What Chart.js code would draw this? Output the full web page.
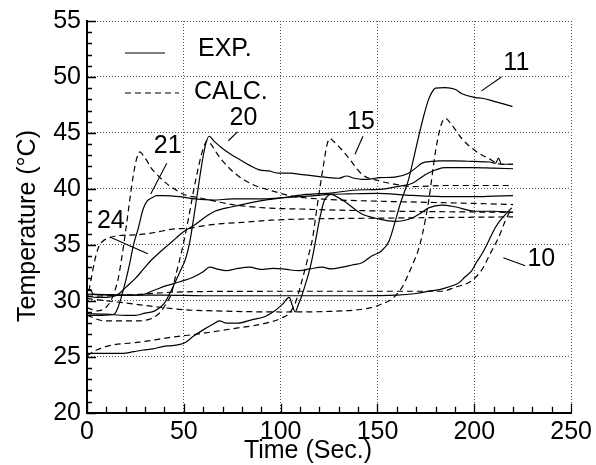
<!DOCTYPE html>
<html><head><meta charset="utf-8">
<script src="https://cdn.jsdelivr.net/npm/chart.js@4"></script>
<style>html,body{margin:0;padding:0;background:#fff}</style>
</head><body>
<canvas id="c" width="596" height="465"></canvas>
<script>
// ---- data (time in s, temperature in °C) ----
const xTicks = [0, 50, 100, 150, 200, 250];
const yTicks = [20, 25, 30, 35, 40, 45, 50, 55];

const t24exp = [0, 5, 10, 14, 17, 20, 25, 29, 33, 38, 42, 46, 50, 55, 62, 66, 75, 80, 92, 103, 113, 127, 139, 151, 160, 168, 176, 185, 200, 210, 220];
const T24exp = [30.4, 30.3, 30.3, 30.4, 30.7, 31.2, 32.0, 32.8, 33.6, 34.4, 35.0, 35.6, 36.2, 36.7, 37.6, 38.0, 38.4, 38.6, 39.0, 39.25, 39.5, 39.65, 39.9, 39.95, 40.2, 40.5, 41.4, 41.9, 41.9, 41.85, 41.8];
const t24calc = [0, 2, 4, 6, 8, 11, 15, 26, 35, 44, 54, 60, 70, 80, 95, 110, 130, 160, 190, 220];
const T24calc = [30.0, 31.8, 33.6, 34.8, 35.3, 35.6, 35.8, 35.9, 36.1, 36.4, 36.5, 36.7, 36.9, 37.0, 37.2, 37.3, 37.35, 37.4, 37.45, 37.5];

const t21exp = [0, 8, 14, 16, 18, 20, 22, 24, 26.5, 29, 31, 33.5, 36, 40, 48, 56, 65, 75, 90, 100, 110, 118, 125, 135, 150, 165, 176, 190, 200, 210, 220];
const T21exp = [28.7, 28.7, 28.8, 29.4, 30.5, 31.8, 33.3, 35.0, 36.5, 38.2, 38.9, 39.2, 39.4, 39.4, 39.3, 39.1, 39.0, 39.1, 39.1, 39.2, 39.3, 39.4, 39.5, 39.55, 39.6, 39.45, 39.35, 39.3, 39.3, 39.35, 39.4];
const t21calc = [0, 5, 9, 12, 14, 16, 18, 20, 22, 24, 25.5, 27.3, 29, 31, 33, 36, 41.6, 46, 50, 58, 75, 92, 110, 130, 160, 190, 220];
const T21calc = [29.4, 29.1, 29.3, 29.9, 30.7, 31.9, 33.9, 36.3, 38.9, 41.3, 42.6, 43.3, 43.0, 42.5, 41.9, 41.3, 40.4, 39.9, 39.5, 39.2, 38.6, 38.3, 38.2, 38.1, 38.0, 37.95, 37.9];

const t20exp = [0, 10, 20, 25, 30, 35, 40, 44, 48, 51, 53, 55, 57, 59, 61, 63, 66, 70, 75, 79, 84, 89, 94, 99, 105, 110, 115, 120, 125, 130, 134, 138, 142, 147, 151, 159, 166, 170, 173, 178, 182, 190, 200, 208, 211, 212.5, 214, 217, 220];
const T20exp = [28.85, 28.8, 28.7, 28.7, 28.9, 29.1, 29.8, 31.1, 32.6, 33.8, 35.2, 37.3, 39.6, 41.9, 43.8, 44.7, 44.2, 43.6, 43.0, 42.6, 42.1, 41.7, 41.6, 41.4, 41.4, 41.3, 41.2, 41.1, 41.0, 40.95, 41.15, 40.95, 40.85, 40.9, 41.0, 41.05, 41.4, 41.9, 42.3, 42.45, 42.5, 42.5, 42.45, 42.4, 42.3, 42.75, 42.2, 42.2, 42.2];
const t20calc = [0, 9, 25, 33, 38, 41, 43.5, 46, 49, 52, 55, 58, 60, 62, 64, 67, 70, 77, 85.5, 96, 106, 125, 150, 175, 200, 220];
const T20calc = [28.7, 28.2, 28.2, 28.4, 29.0, 29.8, 30.6, 32.4, 34.5, 37.0, 39.8, 42.3, 43.6, 44.3, 44.0, 43.2, 42.5, 41.3, 40.4, 39.8, 39.35, 39.05, 38.9, 38.8, 38.7, 38.6];

const t15exp = [0, 10, 18.6, 24, 29, 34, 39, 44, 48, 51, 54.7, 60, 65, 68.4, 72, 78, 85, 92, 97, 101, 104.4, 106, 107.5, 109, 111, 113, 115, 117, 119, 120.5, 122.4, 124.5, 126, 128.4, 133.6, 142, 151, 159, 163, 168, 172, 176.4, 183, 190, 200.5, 210, 220];
const T15exp = [25.3, 25.3, 25.3, 25.45, 25.6, 25.7, 25.9, 26.0, 26.1, 26.3, 26.8, 27.4, 27.9, 28.2, 28.0, 28.0, 28.3, 28.6, 29.1, 29.7, 30.3, 29.6, 29.0, 29.6, 30.5, 31.6, 32.8, 34.4, 36.3, 37.6, 38.9, 39.4, 39.5, 39.35, 38.8, 37.75, 37.3, 37.1, 37.15, 37.4, 37.8, 38.3, 38.55, 38.4, 38.0, 38.0, 37.9];
const t15calc = [0, 5, 11.8, 27, 44, 58, 75, 92.5, 101, 105, 108, 111, 114, 116.5, 118, 120, 122, 124, 125.5, 127, 130, 135, 142, 151, 159.5, 168, 185, 200, 220];
const T15calc = [25.1, 25.6, 26.0, 26.3, 26.75, 27.05, 27.5, 28.0, 28.5, 29.0, 30.0, 31.8, 33.8, 35.6, 37.4, 39.8, 42.0, 44.0, 44.5, 44.3, 43.8, 42.8, 41.3, 40.7, 40.4, 40.2, 40.3, 40.3, 40.3];

const t11exp = [0, 10, 20, 27, 34, 41, 48, 54.7, 60, 63.3, 68, 72, 78, 84, 90, 96, 101, 105, 109.6, 115, 121.5, 126, 131.8, 137, 142, 147, 152, 156, 159, 162, 166, 168.5, 171, 174, 176.4, 178, 180, 185, 190, 193.6, 200.5, 204, 210.7, 215, 219.7];
const T11exp = [30.6, 30.55, 30.5, 30.5, 30.9, 31.35, 31.7, 32.1, 32.6, 33.0, 32.8, 32.7, 32.9, 33.0, 32.8, 32.9, 32.85, 32.75, 32.7, 32.85, 33.0, 32.85, 33.0, 33.2, 33.4, 34.0, 34.45, 35.35, 37.0, 38.8, 40.8, 42.6, 44.5, 46.6, 48.0, 48.6, 49.0, 49.05, 48.9, 48.5, 48.15, 48.1, 47.8, 47.6, 47.35];
const t11calc = [0, 10, 20, 34, 50, 66, 100, 125, 140, 147, 152, 156, 159, 163, 166, 169, 171, 173, 176.4, 180, 183, 185, 188, 193.5, 200.5, 207, 214, 220];
const T11calc = [30.2, 30.0, 29.8, 29.5, 29.2, 29.1, 29.0, 29.05, 29.2, 29.4, 29.7, 30.0, 30.4, 31.3, 32.4, 33.6, 34.5, 35.8, 38.9, 43.4, 45.8, 46.3, 45.8, 44.5, 43.4, 42.75, 42.2, 42.2];

const t10exp = [0, 2, 3, 6, 20, 40, 60, 80, 100, 120, 140, 160, 170, 178, 182, 187, 192, 195, 198.7, 201, 204, 207.3, 210.7, 213, 216, 219.3];
const T10exp = [31.0, 31.0, 30.6, 30.55, 30.5, 30.5, 30.45, 30.45, 30.45, 30.45, 30.45, 30.5, 30.65, 30.9, 31.0, 31.25, 31.6, 32.1, 32.7, 33.4, 34.2, 35.3, 36.5, 37.1, 37.7, 38.3];
const t10calc = [0, 20, 50, 100, 150, 183, 190, 198.7, 204, 207.3, 210, 212.4, 215.9, 219.3];
const T10calc = [30.4, 30.5, 30.8, 30.85, 30.85, 30.85, 31.2, 31.8, 32.8, 33.9, 34.8, 35.6, 37.1, 38.3];

// curve labels: text, label position (t,T), pointer start, pointer end
const curveLabels = ['11', '15', '20', '21', '24', '10'];
const labelAt = [[221.7, 51.25], [141.5, 46.0], [80.8, 46.3], [41.7, 43.8], [12.3, 37.1], [234.6, 33.75]];
const pointerFrom = [[214, 50.0], [142.5, 44.7], [77.7, 45.1], [41.2, 42.3], [11.8, 35.7], [215, 33.84]];
const pointerTo = [[203.7, 48.76], [138.4, 43.1], [73.0, 44.3], [32.9, 39.55], [31.4, 34.2], [226.3, 33.13]];

const legendNames = ['EXP.', 'CALC.'];

// ---- build ----
const FONT = '"Liberation Sans", Arial, Helvetica, sans-serif';
const pts = (t, T) => t.map((v, i) => ({x: v, y: T[i]}));
const mk = (t, T, dashed) => ({
  data: pts(t, T), borderColor: '#000', borderWidth: 1.2, pointRadius: 0,
  fill: false, cubicInterpolationMode: 'monotone', borderDash: dashed ? [6, 4] : []
});
const datasets = [
  mk(t24exp, T24exp, false), mk(t24calc, T24calc, true),
  mk(t21exp, T21exp, false), mk(t21calc, T21calc, true),
  mk(t20exp, T20exp, false), mk(t20calc, T20calc, true),
  mk(t15exp, T15exp, false), mk(t15calc, T15calc, true),
  mk(t11exp, T11exp, false), mk(t11calc, T11calc, true),
  mk(t10exp, T10exp, false), mk(t10calc, T10calc, true)
];

const deco = {
  id: 'deco',
  afterDraw(chart) {
    const {ctx, chartArea: a, scales: {x, y}} = chart;
    ctx.save();
    ctx.strokeStyle = '#000';
    ctx.lineWidth = 1.3;
    ctx.setLineDash([]);
    // inward minor ticks
    ctx.beginPath();
    for (let v = 0; v <= 250; v += 10) {
      const px = Math.round(x.getPixelForValue(v)) + 0.5;
      const len = v % 50 === 0 ? 9 : 6;
      ctx.moveTo(px, a.bottom); ctx.lineTo(px, a.bottom - len);
    }
    for (let v = 20; v <= 55; v += 1) {
      const py = Math.round(y.getPixelForValue(v)) + 0.5;
      const len = v % 5 === 0 ? 9 : 5;
      ctx.moveTo(a.left, py); ctx.lineTo(a.left + len, py);
    }
    ctx.stroke();

    ctx.fillStyle = '#000';
    ctx.font = '25px ' + FONT;
    ctx.textBaseline = 'middle';
    // legend
    ctx.lineWidth = 1.2;
    ctx.beginPath();
    ctx.moveTo(a.left + 38, a.top + 32); ctx.lineTo(a.left + 78, a.top + 32); ctx.stroke();
    ctx.setLineDash([6, 4]);
    ctx.beginPath();
    ctx.moveTo(a.left + 38, a.top + 72); ctx.lineTo(a.left + 92, a.top + 72); ctx.stroke();
    ctx.setLineDash([]);
    ctx.textAlign = 'left';
    ctx.fillText(legendNames[0], a.left + 111, a.top + 28);
    ctx.fillText(legendNames[1], a.left + 107, a.top + 71);

    // curve labels
    ctx.textAlign = 'center';
    ctx.lineWidth = 1.1;
    curveLabels.forEach((s, i) => {
      ctx.fillText(s, x.getPixelForValue(labelAt[i][0]), y.getPixelForValue(labelAt[i][1]));
      ctx.beginPath();
      ctx.moveTo(x.getPixelForValue(pointerFrom[i][0]), y.getPixelForValue(pointerFrom[i][1]));
      ctx.lineTo(x.getPixelForValue(pointerTo[i][0]), y.getPixelForValue(pointerTo[i][1]));
      ctx.stroke();
    });

    // axis titles
    ctx.textAlign = 'center';
    ctx.fillText('Time (Sec.)', 308, 451);
    ctx.save();
    ctx.translate(28, 226);
    ctx.rotate(-Math.PI / 2);
    ctx.fillText('Temperature (°C)', 0, 0);
    ctx.restore();
    ctx.restore();
  }
};

new Chart(document.getElementById('c'), {
  type: 'line',
  data: {datasets},
  options: {
    responsive: false, animation: false, devicePixelRatio: 1,
    layout: {padding: {left: 0, right: 23, top: 19, bottom: 0}},
    plugins: {legend: {display: false}, tooltip: {enabled: false}, title: {display: false}},
    scales: {
      x: {
        type: 'linear', min: 0, max: 250,
        afterFit: s => { s.height = 52.3; },
        afterBuildTicks: s => { s.ticks = xTicks.map(v => ({value: v})); },
        ticks: {color: '#000', font: {size: 25, family: FONT}, padding: 4, maxRotation: 0},
        grid: {color: '#555', lineWidth: 1, drawTicks: false},
        border: {display: true, color: '#000', width: 2, dash: [1, 2]}
      },
      y: {
        type: 'linear', min: 20, max: 55,
        afterFit: s => { s.width = 87; },
        afterBuildTicks: s => { s.ticks = yTicks.map(v => ({value: v})); },
        ticks: {color: '#000', font: {size: 25, family: FONT}, padding: 6},
        grid: {color: '#555', lineWidth: 1, drawTicks: false},
        border: {display: true, color: '#000', width: 2, dash: [1, 2]}
      }
    }
  },
  plugins: [deco]
});
</script>
</body></html>
